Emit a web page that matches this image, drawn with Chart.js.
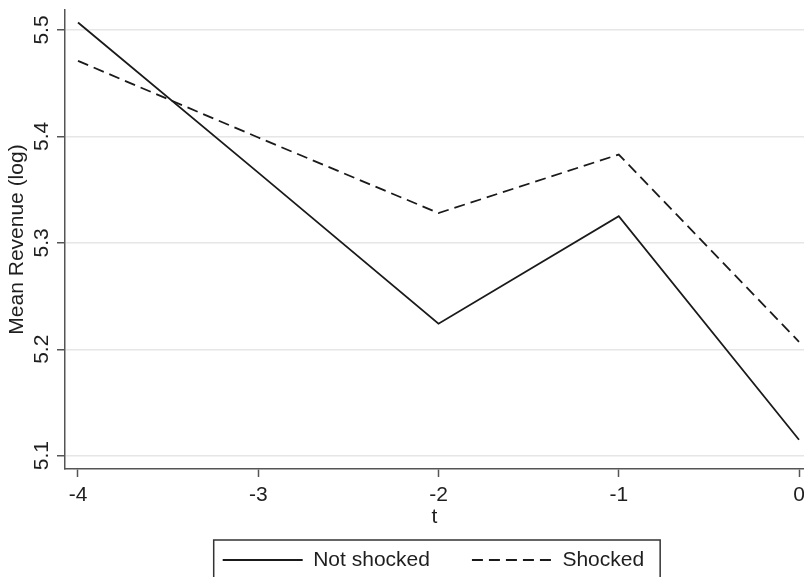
<!DOCTYPE html>
<html><head><meta charset="utf-8">
<script src="https://cdn.jsdelivr.net/npm/chart.js@4"></script>
<style>html,body{margin:0;padding:0;background:#fff;}canvas{display:block;}</style>
</head><body>
<canvas id="c" width="804" height="577"></canvas>
<script>
const tValues = [-4, -3, -2, -1, 0];
const notShocked = [5.507, 5.366, 5.224, 5.325, 5.115];
const shocked = [5.471, 5.399, 5.328, 5.383, 5.207];
const xTickValues = [-4, -3, -2, -1, 0];
const yTickValues = [5.1, 5.2, 5.3, 5.4, 5.5];
const seriesNames = ['Not shocked', 'Shocked'];
const xTitle = 't';
const yTitle = 'Mean Revenue (log)';

const FAMILY = '"Liberation Sans", Arial, sans-serif';
const FS = 21;
const TXT = '#1e1e1e';
const AXIS = '#555555';

const legendPlacer = {
  id: 'legendPlacer',
  afterLayout(chart) {
    const lg = chart.legend;
    if (!lg || !lg.lineWidths) return;
    const p = lg.options.labels.padding;
    const top = 560 - p - FS / 2;
    lg.top = top; lg.height = 90; lg.bottom = top + 90;
    const lw = lg.lineWidths[0];
    const L = (2 * 222.7 + lw - p - 804) / 2;
    lg.left = L; lg.right = L + 804; lg.width = 804;
  },
  afterDraw(chart) {
    const lg = chart.legend;
    if (!lg || !lg.legendHitBoxes || !lg.legendHitBoxes.length) return;
    const hb = lg.legendHitBoxes;
    const last = hb[hb.length - 1];
    const x0 = hb[0].left - 9;
    const x1 = last.left + last.width + 16;
    const ctx = chart.ctx;
    ctx.save();
    ctx.strokeStyle = '#333';
    ctx.lineWidth = 1.5;
    ctx.strokeRect(x0, 540, x1 - x0, 60);
    ctx.restore();
  }
};

new Chart(document.getElementById('c'), {
  type: 'line',
  data: {
    datasets: [
      {
        label: seriesNames[0],
        data: tValues.map((t, i) => ({x: t, y: notShocked[i]})),
        borderColor: '#1a1a1a', backgroundColor: '#1a1a1a',
        borderWidth: 1.8, pointRadius: 0, tension: 0, fill: false
      },
      {
        label: seriesNames[1],
        data: tValues.map((t, i) => ({x: t, y: shocked[i]})),
        borderColor: '#1a1a1a', backgroundColor: '#1a1a1a',
        borderWidth: 1.8, borderDash: [11, 6], pointRadius: 0, tension: 0, fill: false
      }
    ]
  },
  options: {
    responsive: false,
    animation: false,
    layout: {padding: {top: 10, left: 0, right: 0, bottom: 0}},
    plugins: {
      tooltip: {enabled: false},
      legend: {
        position: 'bottom',
        maxHeight: 30,
        labels: {
          usePointStyle: true,
          pointStyle: 'line',
          pointStyleWidth: 80,
          padding: 42,
          color: TXT,
          font: {family: FAMILY, size: FS},
          generateLabels(chart) {
            const items = Chart.defaults.plugins.legend.labels.generateLabels(chart);
            items.forEach(it => {
              const ds = chart.data.datasets[it.datasetIndex];
              it.lineDash = ds.borderDash || [];
              it.lineWidth = ds.borderWidth;
              it.strokeStyle = ds.borderColor;
            });
            return items;
          }
        }
      }
    },
    scales: {
      x: {
        type: 'linear', position: 'bottom',
        min: -4.0721, max: 0.0277,
        afterBuildTicks: s => { s.ticks = xTickValues.map(v => ({value: v})); },
        afterFit: s => { s.height = 78; s.paddingLeft = 0; s.paddingRight = 0; },
        grid: {drawOnChartArea: false, drawTicks: true, tickLength: 8, tickColor: AXIS, tickWidth: 1.5},
        border: {display: true, color: AXIS, width: 1.5},
        ticks: {font: {family: FAMILY, size: FS}, color: TXT, padding: 6, maxRotation: 0, autoSkip: false,
                callback: v => String(v)},
        title: {display: true, text: xTitle, color: TXT, font: {family: FAMILY, size: FS}, padding: {top: 0, bottom: 17}}
      },
      y: {
        type: 'linear', position: 'left',
        min: 5.0875, max: 5.5188,
        afterBuildTicks: s => { s.ticks = yTickValues.map(v => ({value: v})); },
        afterFit: s => { s.width = 65; s.paddingTop = 0; s.paddingBottom = 0; },
        grid: {color: '#e6e6e6', lineWidth: 1.5, drawTicks: true, tickLength: 8, tickColor: AXIS, tickWidth: 1.5},
        border: {display: true, color: AXIS, width: 1.5},
        ticks: {font: {family: FAMILY, size: FS}, color: TXT, minRotation: 90, maxRotation: 90, padding: 0,
                crossAlign: 'center', autoSkip: false, callback: v => Number(v).toFixed(1)},
        title: {display: true, text: yTitle, color: TXT, font: {family: FAMILY, size: FS}, padding: {top: 5, bottom: 0}}
      }
    }
  },
  plugins: [legendPlacer]
});
</script>
</body></html>
